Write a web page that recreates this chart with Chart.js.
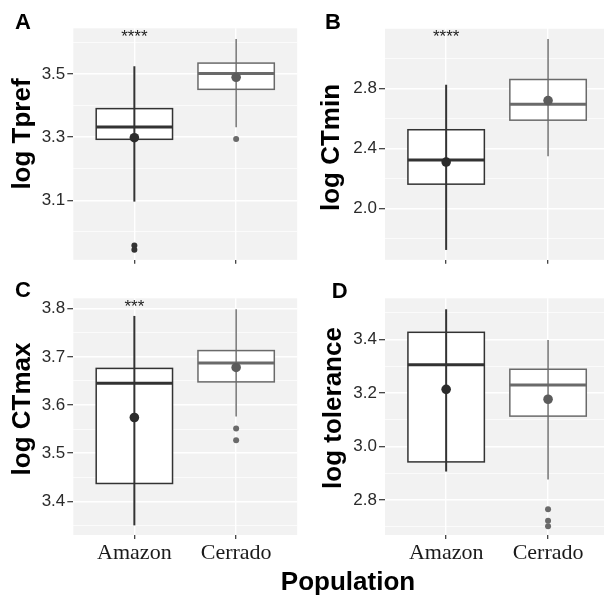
<!DOCTYPE html>
<html>
<head>
<meta charset="utf-8">
<script src="https://cdn.jsdelivr.net/npm/chart.js@4.4.1/dist/chart.umd.min.js"></script>
<style>
  body { margin: 0; background: #fff; }
  #wrap { position: relative; width: 604px; height: 600px; overflow: hidden; }
  #wrap canvas { position: absolute; }
  #xTitle {
    position: absolute; left: 248px; width: 200px; top: 568px;
    text-align: center; font: bold 26px "Liberation Sans", Arial, sans-serif;
    line-height: 26px; color: #000;
  }
</style>
</head>
<body>
<div id="wrap">
  <canvas id="panelA" width="302" height="272" style="left:0;top:0"></canvas>
  <canvas id="panelB" width="314" height="272" style="left:300px;top:0"></canvas>
  <canvas id="panelC" width="302" height="300" style="left:0;top:270px"></canvas>
  <canvas id="panelD" width="314" height="300" style="left:300px;top:270px"></canvas>
  <div id="xTitle">Population</div>
</div>
<script>
  // categorias no eixo x
  const populations = ['Amazon', 'Cerrado'];

  // log Tpref
  const tprefLow = [3.096, 3.331];
  const tprefQ1 = [3.293, 3.451];
  const tprefMedian = [3.332, 3.501];
  const tprefQ3 = [3.390, 3.534];
  const tprefHigh = [3.524, 3.610];
  const tprefMean = [3.298, 3.489];
  const tprefOutliers = [[2.957, 2.944], [3.294]];
  const tprefTicks = [3.1, 3.3, 3.5];

  // log CTmin
  const ctminLow = [1.721, 2.347];
  const ctminQ1 = [2.161, 2.589];
  const ctminMedian = [2.323, 2.695];
  const ctminQ3 = [2.525, 2.861];
  const ctminHigh = [2.826, 3.132];
  const ctminMean = [2.309, 2.720];
  const ctminOutliers = [[], []];
  const ctminTicks = [2.0, 2.4, 2.8];

  // log CTmax
  const ctmaxLow = [3.350, 3.576];
  const ctmaxQ1 = [3.437, 3.648];
  const ctmaxMedian = [3.645, 3.687];
  const ctmaxQ3 = [3.676, 3.713];
  const ctmaxHigh = [3.785, 3.799];
  const ctmaxMean = [3.574, 3.678];
  const ctmaxOutliers = [[], [3.551, 3.527]];
  const ctmaxTicks = [3.4, 3.5, 3.6, 3.7, 3.8];

  // log tolerance
  const tolLow = [2.906, 2.876];
  const tolQ1 = [2.942, 3.113];
  const tolMedian = [3.305, 3.229];
  const tolQ3 = [3.426, 3.288];
  const tolHigh = [3.512, 3.397];
  const tolMean = [3.213, 3.176];
  const tolOutliers = [[], [2.765, 2.722, 2.702]];
  const tolTicks = [2.8, 3.0, 3.2, 3.4];

  // cores por população
  const boxColors = ['#333333', '#6a6a6a'];
  const lineWidths = [2, 1.4];
  const meanColors = ['#2b2b2b', '#5c5c5c'];
  const panelBg = '#f2f2f2';

  function near(a, b) { return Math.abs(a - b) < 1e-6; }

  // fundo cinza do painel
  const panelBackground = {
    id: 'panelBackground',
    beforeDraw(chart) {
      const a = chart.chartArea;
      const ctx = chart.ctx;
      ctx.save();
      ctx.fillStyle = panelBg;
      ctx.fillRect(a.left, a.top, a.right - a.left, a.bottom - a.top);
      ctx.restore();
    }
  };

  // caixas, medianas e linhas verticais
  const boxes = {
    id: 'boxes',
    beforeDatasetsDraw(chart, args, opts) {
      const ctx = chart.ctx;
      const x = chart.scales.x;
      const y = chart.scales.y;
      const s = opts.stats;
      ctx.save();
      for (let i = 0; i < populations.length; i++) {
        const xc = x.getPixelForValue(i + 1);
        const xl = x.getPixelForValue(i + 1 - 0.375);
        const xr = x.getPixelForValue(i + 1 + 0.375);
        const yq1 = y.getPixelForValue(s.q1[i]);
        const yq3 = y.getPixelForValue(s.q3[i]);
        const ymed = y.getPixelForValue(s.median[i]);

        ctx.fillStyle = '#ffffff';
        ctx.fillRect(xl, yq3, xr - xl, yq1 - yq3);
        ctx.strokeStyle = boxColors[i];
        ctx.lineWidth = 1.5;
        ctx.strokeRect(xl, yq3, xr - xl, yq1 - yq3);

        ctx.lineWidth = 3;
        ctx.beginPath();
        ctx.moveTo(xl, ymed);
        ctx.lineTo(xr, ymed);
        ctx.stroke();

        ctx.lineWidth = lineWidths[i];
        ctx.beginPath();
        ctx.moveTo(xc, y.getPixelForValue(s.low[i]));
        ctx.lineTo(xc, y.getPixelForValue(s.high[i]));
        ctx.stroke();
      }
      ctx.restore();
    }
  };

  // letra do painel, título do eixo y e asteriscos
  const panelText = {
    id: 'panelText',
    afterDraw(chart, args, opts) {
      const ctx = chart.ctx;
      ctx.save();
      ctx.fillStyle = '#000';
      ctx.font = 'bold 22px "Liberation Sans", Arial, sans-serif';
      ctx.textAlign = 'left';
      ctx.textBaseline = 'alphabetic';
      ctx.fillText(opts.letter, opts.letterX, opts.letterY);

      ctx.save();
      ctx.translate(opts.titleX, opts.titleY);
      ctx.rotate(-Math.PI / 2);
      ctx.font = 'bold 26px "Liberation Sans", Arial, sans-serif';
      ctx.textAlign = 'center';
      ctx.textBaseline = 'middle';
      ctx.fillText(opts.title, 0, 0);
      ctx.restore();

      if (opts.stars) {
        ctx.font = '17px "Liberation Sans", Arial, sans-serif';
        ctx.fillStyle = '#222';
        ctx.textAlign = 'center';
        ctx.textBaseline = 'middle';
        ctx.fillText(opts.stars,
          chart.scales.x.getPixelForValue(1),
          chart.scales.y.getPixelForValue(opts.starsY));
      }
      ctx.restore();
    }
  };

  function makePanel(id, p) {
    const step = p.ticks[1] - p.ticks[0];
    const yValues = [];
    for (let v = p.ticks[0] - step * 10; v <= p.max + 1e-9; v += step / 2) {
      const r = Math.round(v * 1000) / 1000;
      if (r >= p.min && r <= p.max) yValues.push(r);
    }
    const isMajor = v => p.ticks.some(m => near(m, v));

    const outlierData = [];
    const outlierColors = [];
    p.outliers.forEach((list, i) => {
      list.forEach(v => {
        outlierData.push({ x: i + 1, y: v });
        outlierColors.push(boxColors[i]);
      });
    });

    new Chart(document.getElementById(id), {
      type: 'scatter',
      data: {
        datasets: [
          {
            data: outlierData,
            pointRadius: 3,
            pointBorderWidth: 0,
            pointBackgroundColor: outlierColors
          },
          {
            data: p.mean.map((v, i) => ({ x: i + 1, y: v })),
            pointRadius: 4.8,
            pointBorderWidth: 0,
            pointBackgroundColor: meanColors
          }
        ]
      },
      options: {
        responsive: false,
        animation: false,
        events: [],
        layout: { padding: { top: 28.3, left: 0, right: 0, bottom: 0 } },
        plugins: {
          legend: { display: false },
          tooltip: { enabled: false },
          boxes: { stats: p },
          panelText: p.text
        },
        scales: {
          x: {
            type: 'linear',
            min: 0.4,
            max: 2.6,
            afterBuildTicks: axis => { axis.ticks = [{ value: 1 }, { value: 2 }]; },
            afterFit: axis => { axis.height = p.xHeight; },
            border: { display: false },
            grid: { color: '#ffffff', lineWidth: 1.4, tickLength: 4, tickColor: '#333', tickWidth: 1.2 },
            ticks: {
              autoSkip: false,
              maxRotation: 0,
              padding: 1,
              color: '#1a1a1a',
              font: { family: '"Liberation Serif", "Times New Roman", serif', size: 22 },
              callback: v => p.showX ? populations[v - 1] : ''
            }
          },
          y: {
            min: p.min,
            max: p.max,
            afterBuildTicks: axis => { axis.ticks = yValues.map(v => ({ value: v })); },
            afterFit: axis => { axis.width = p.yWidth; },
            border: { display: false },
            grid: {
              color: '#ffffff',
              lineWidth: c => isMajor(c.tick.value) ? 1.4 : 0.7,
              tickLength: 6,
              tickWidth: 1.2,
              tickColor: c => isMajor(c.tick.value) ? '#333' : 'rgba(0,0,0,0)'
            },
            ticks: {
              autoSkip: false,
              padding: 2,
              color: '#2a2a2a',
              font: { family: '"Liberation Sans", Arial, sans-serif', size: 17 },
              callback: v => isMajor(v) ? v.toFixed(1) : ''
            }
          }
        }
      },
      plugins: [panelBackground, boxes, panelText]
    });
  }

  makePanel('panelA', {
    low: tprefLow, q1: tprefQ1, median: tprefMedian, q3: tprefQ3, high: tprefHigh,
    mean: tprefMean, outliers: tprefOutliers, ticks: tprefTicks,
    min: 2.912, max: 3.644, yWidth: 73.3, xHeight: 7, showX: false,
    text: { letter: 'A', letterX: 15, letterY: 29, title: 'log Tpref', titleX: 23, titleY: 134, stars: '****', starsY: 3.616 }
  });

  makePanel('panelB', {
    low: ctminLow, q1: ctminQ1, median: ctminMedian, q3: ctminQ3, high: ctminHigh,
    mean: ctminMean, outliers: ctminOutliers, ticks: ctminTicks,
    min: 1.655, max: 3.2035, yWidth: 85, xHeight: 7, showX: false,
    text: { letter: 'B', letterX: 25, letterY: 28.5, title: 'log CTmin', titleX: 32, titleY: 147.5, stars: '****', starsY: 3.144 }
  });

  makePanel('panelC', {
    low: ctmaxLow, q1: ctmaxQ1, median: ctmaxMedian, q3: ctmaxQ3, high: ctmaxHigh,
    mean: ctmaxMean, outliers: ctmaxOutliers, ticks: ctmaxTicks,
    min: 3.330, max: 3.8216, yWidth: 73.3, xHeight: 35, showX: true,
    text: { letter: 'C', letterX: 15, letterY: 27, title: 'log CTmax', titleX: 23, titleY: 139, stars: '***', starsY: 3.803 }
  });

  makePanel('panelD', {
    low: tolLow, q1: tolQ1, median: tolMedian, q3: tolQ3, high: tolHigh,
    mean: tolMean, outliers: tolOutliers, ticks: tolTicks,
    min: 2.669, max: 3.553, yWidth: 85, xHeight: 35, showX: true,
    text: { letter: 'D', letterX: 31.7, letterY: 28.3, title: 'log tolerance', titleX: 34, titleY: 138, stars: '', starsY: 0 }
  });
</script>
</body>
</html>
